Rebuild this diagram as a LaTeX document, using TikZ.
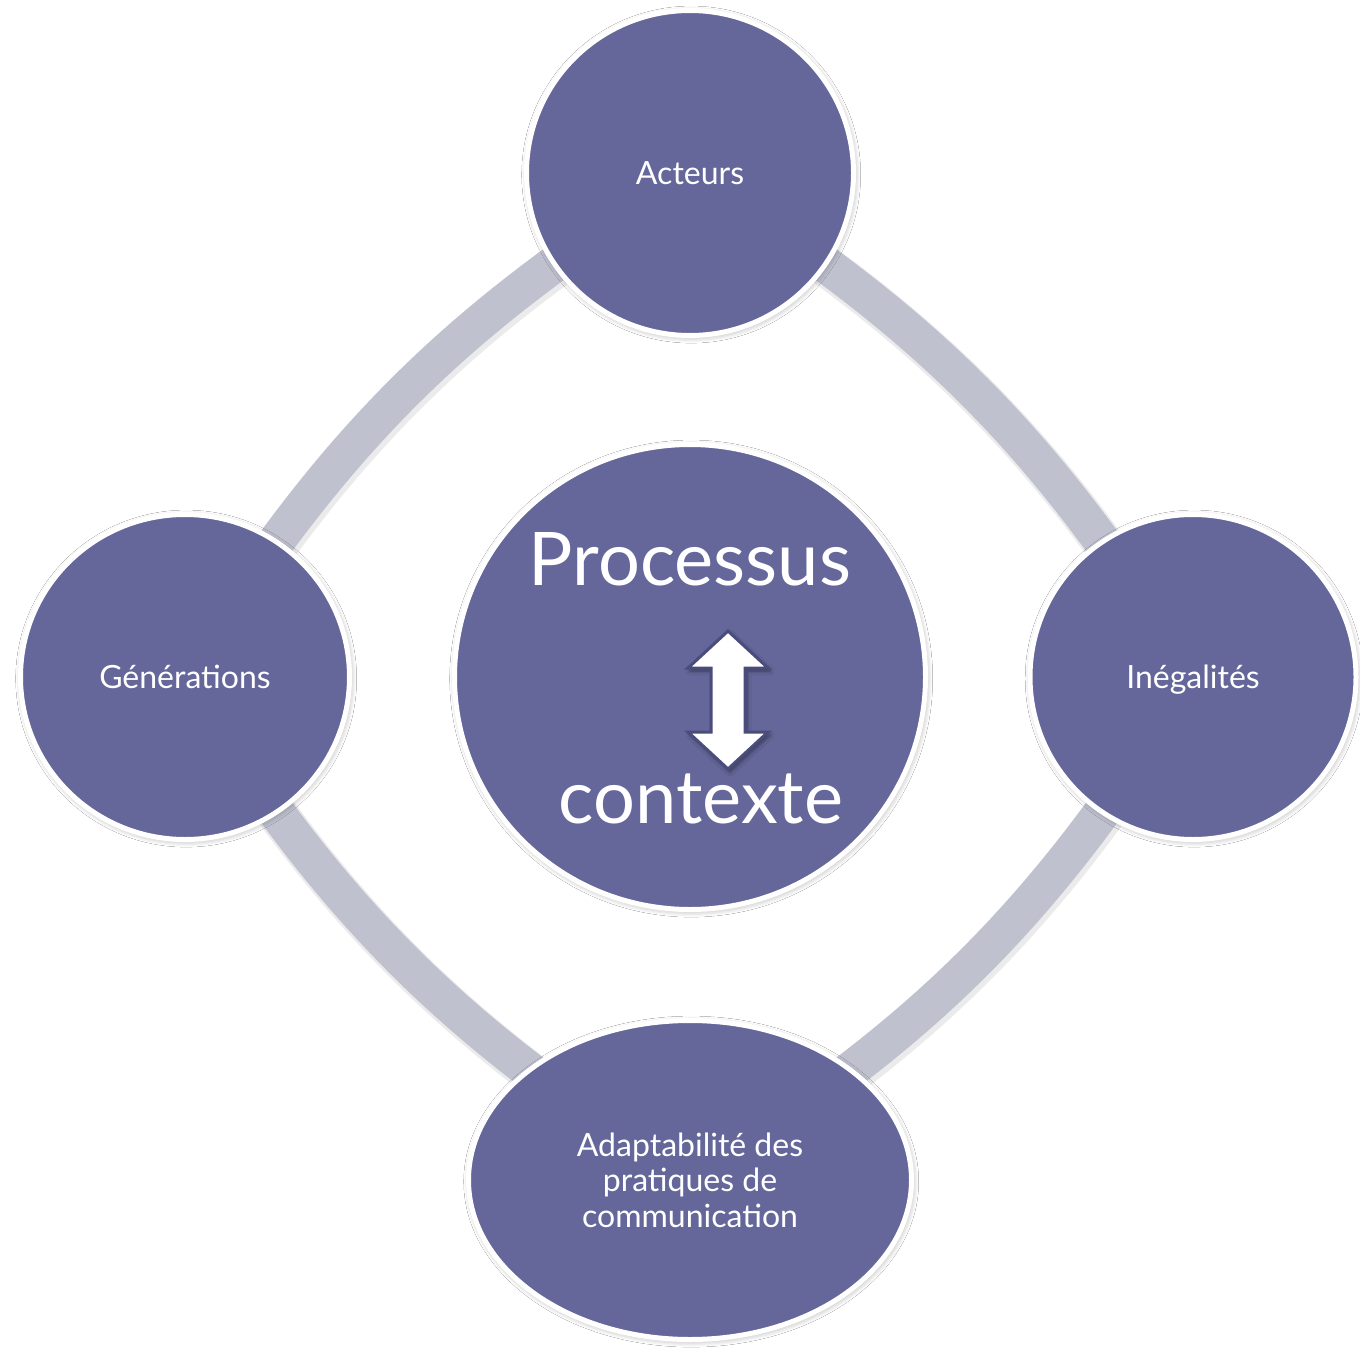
\documentclass[tikz,border=0pt]{standalone}
\usepackage{fontspec}
\setmainfont{Lato}
\usetikzlibrary{shapes.geometric,shadows.blur}
\definecolor{discfill}{HTML}{65679A}
\definecolor{bandcol}{HTML}{BFC1CF}
\definecolor{arrowedge}{HTML}{4A4C7C}
\begin{document}
\begin{tikzpicture}[x=0.5pt,y=-0.5pt,
  disc/.style={ellipse, fill=discfill, draw=white, line width=2.5pt,
    text=white, align=center, inner sep=0pt,
    blur shadow={shadow blur steps=6, shadow xshift=0.6pt, shadow yshift=-0.8pt,
      shadow blur radius=3pt, shadow opacity=35}},
  lab/.style={font=\fontsize{16}{17.75}\selectfont, text height=11.5pt, text depth=0pt},
  biglab/.style={text=white, font=\fontsize{37}{40}\selectfont, inner sep=0pt, anchor=base},
  bandline/.style={draw=bandcol, line width=18.5pt},
  bandshade/.style={draw=black, opacity=0.08, line width=20.5pt}
]
\useasboundingbox (0,0) rectangle (1360,1354);
\fill[white] (0,0) rectangle (1360,1354);

% node centres
\coordinate (cT) at (690,173);
\coordinate (cR) at (1193,677);
\coordinate (cB) at (690,1180);
\coordinate (cL) at (185,677);

% ring bands
\draw[bandshade] ([xshift=1pt,yshift=-1.5pt]cT) to[bend left=13] ([xshift=1pt,yshift=-1.5pt]cR);
\draw[bandshade] ([xshift=1pt,yshift=-1.5pt]cR) to[bend left=13] ([xshift=1pt,yshift=-1.5pt]cB);
\draw[bandshade] ([xshift=1pt,yshift=-1.5pt]cB) to[bend left=13] ([xshift=1pt,yshift=-1.5pt]cL);
\draw[bandshade] ([xshift=1pt,yshift=-1.5pt]cL) to[bend left=13] ([xshift=1pt,yshift=-1.5pt]cT);
\draw[bandline] (cT) to[bend left=13] (cR);
\draw[bandline] (cR) to[bend left=13] (cB);
\draw[bandline] (cB) to[bend left=13] (cL);
\draw[bandline] (cL) to[bend left=13] (cT);

% outer discs
\node[disc, lab, minimum width=163.5pt, minimum height=162.5pt] (top) at (cT) {Acteurs};
\node[disc, lab, minimum width=164.5pt, minimum height=162.5pt] (left) at (cL) {Générations};
\node[disc, lab, minimum width=163pt, minimum height=162.5pt] (right) at (cR) {Inégalités};
\node[disc, font=\fontsize{16}{17.75}\selectfont, minimum width=221.5pt, minimum height=159.5pt] (bottom) at (cB) {Adaptabilité des\\pratiques de\\communication};

% central disc
\node[disc, minimum width=235.5pt, minimum height=232.5pt] (centre) at (690,677) {};
\node[biglab] (proc) at (690,585) {Processus};
\node[biglab] (ctx) at (701,823) {contexte};

% double arrow
\draw[fill=white, draw=arrowedge, line width=1.5pt, line join=miter,
  blur shadow={shadow blur steps=5, shadow xshift=1pt, shadow yshift=-1.5pt,
    shadow blur radius=2pt, shadow opacity=45}]
  (728,631) -- (768,668) -- (745,668) -- (745,732) -- (768,732) -- (728,769)
  -- (688,732) -- (711,732) -- (711,668) -- (688,668) -- cycle;
\end{tikzpicture}
\end{document}
